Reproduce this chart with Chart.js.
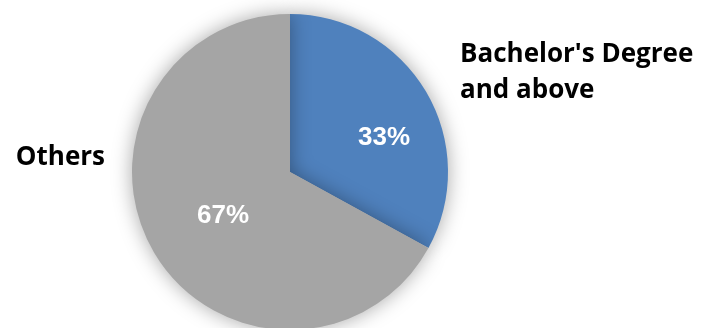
<!DOCTYPE html>
<html>
<head>
<meta charset="utf-8">
<script src="https://cdn.jsdelivr.net/npm/chart.js@4"></script>
<style>
  html, body { margin: 0; padding: 0; background: #fff; overflow: hidden; }
  #wrap { position: relative; width: 713px; height: 344px; }
</style>
</head>
<body>
<div id="wrap"><canvas id="pieChart"></canvas></div>
<script>
const categories = ["Bachelor's Degree and above", "Others"];
const values = [33, 67];
const sliceColors = ['#4f81bd', '#a5a5a5'];

// soft shadow round the pie
const pieShadow = {
    id: 'pieShadow',
    beforeDatasetsDraw(chart) {
        const ctx = chart.ctx;
        ctx.save();
        ctx.shadowColor = 'rgba(0, 0, 0, 0.35)';
        ctx.shadowBlur = 20;
        ctx.shadowOffsetX = 0;
        ctx.shadowOffsetY = 0;
    },
    afterDatasetsDraw(chart) {
        chart.ctx.restore();
    }
};

// percent labels inside, category labels outside
const sliceLabels = {
    id: 'sliceLabels',
    afterDraw(chart) {
        const ctx = chart.ctx;
        const arcs = chart.getDatasetMeta(0).data;
        const total = values.reduce((a, b) => a + b, 0);
        const inner = [{ dx: 94, dy: -34 }, { dx: -67, dy: 44 }];
        const outer = [
            { x: 460, y: 55, align: 'left', lines: ["Bachelor's Degree", 'and above'] },
            { x: 105, y: 158, align: 'right', lines: ['Others'] }
        ];
        ctx.save();
        arcs.forEach((arc, i) => {
            ctx.fillStyle = '#fff';
            ctx.font = 'bold 26px "Liberation Sans", Arial, sans-serif';
            ctx.textAlign = 'center';
            ctx.textBaseline = 'middle';
            const pct = Math.round(values[i] / total * 100) + '%';
            ctx.fillText(pct, arc.x + inner[i].dx, arc.y + inner[i].dy);

            const o = outer[i];
            ctx.fillStyle = '#000';
            ctx.font = 'bold 26px "Open Sans", sans-serif';
            ctx.textAlign = o.align;
            o.lines.forEach((line, j) => ctx.fillText(line, o.x, o.y + j * 36));
        });
        ctx.restore();
    }
};

new Chart(document.getElementById('pieChart').getContext('2d'), {
    type: 'pie',
    data: {
        labels: categories,
        datasets: [{
            data: values,
            backgroundColor: sliceColors,
            borderWidth: 0
        }]
    },
    options: {
        responsive: true,
        maintainAspectRatio: false,
        animation: false,
        layout: {
            padding: { left: 132, right: 265, top: 14, bottom: 14 }
        },
        plugins: {
            legend: { display: false },
            tooltip: { enabled: false }
        }
    },
    plugins: [pieShadow, sliceLabels]
});
</script>
</body>
</html>
